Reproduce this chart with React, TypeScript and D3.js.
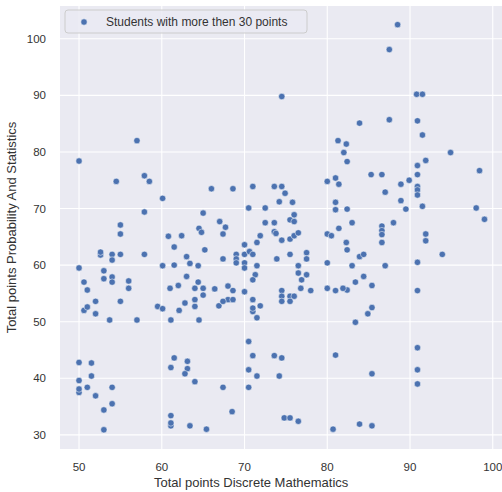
import * as d3 from 'd3';

// Total points Discrete Mathematics (x) / Probability And Statistics (y)
const mathPoints = [
  57.0, 50.0, 74.5, 81.3, 82.3, 82.0, 88.5, 87.5, 90.8, 91.5, 83.9, 87.5, 90.9, 91.5, 94.9, 91.9,
  82.4, 90.9, 98.4, 85.3, 86.6, 89.9, 88.9, 90.9, 90.9, 90.9, 90.9, 87.0, 88.9, 89.5, 91.5, 82.4,
  98.0, 99.0, 83.0, 88.0, 86.6, 86.6, 86.6, 86.6, 91.9, 91.9, 82.3, 82.4, 93.9, 83.9, 84.4, 90.9,
  83.0, 87.0, 84.4, 83.4, 82.4, 85.4, 90.9, 85.4, 84.9, 83.4, 90.9, 85.4, 90.9, 90.9, 83.9, 85.4,
  66.9, 71.9, 71.0, 71.0, 71.5, 64.5, 70.5, 71.0, 73.6, 74.5, 81.0, 70.5, 71.5, 74.2, 67.4, 70.5,
  68.5, 74.8, 75.5, 76.5, 65.4, 80.7, 50.6, 51.0, 52.0, 53.7, 57.0, 59.5, 60.1, 61.1, 62.1, 64.0,
  50.0, 51.5, 51.5, 50.0, 50.0, 50.0, 51.0, 52.0, 54.0, 54.0, 53.0, 53.0, 61.1, 61.5, 63.1, 63.1,
  62.8, 64.0, 61.1, 61.1, 61.1, 63.4, 54.5, 57.9, 58.5, 60.1, 57.9, 65.0, 55.0, 55.0, 64.5, 64.8,
  60.8, 62.4, 61.5, 65.2, 52.6, 52.6, 54.0, 54.0, 55.0, 57.9, 63.0, 63.4, 64.4, 60.1, 61.5, 50.0,
  53.0, 63.0, 50.6, 53.0, 54.0, 54.0, 56.0, 56.0, 51.0, 61.0, 62.0, 64.0, 64.4, 65.0, 65.0, 52.0,
  55.0, 62.8, 64.0, 66.0, 68.6, 71.0, 73.6, 74.5, 74.9, 74.2, 75.8, 80.0, 81.0, 81.4, 81.0, 81.0,
  70.5, 72.5, 76.0, 75.5, 76.0, 67.0, 67.7, 67.4, 72.5, 73.6, 73.6, 73.8, 71.9, 71.5, 74.5, 75.5,
  76.0, 76.5, 80.0, 80.5, 81.4, 70.0, 70.0, 69.0, 69.0, 69.0, 70.0, 70.0, 70.6, 71.0, 71.5, 67.4,
  73.9, 75.5, 77.5, 77.5, 76.5, 76.5, 77.5, 76.9, 76.8, 78.0, 80.0, 80.0, 81.0, 81.9, 71.3, 71.0,
  66.4, 68.0, 68.6, 70.0, 68.0, 68.6, 67.4, 71.0, 74.5, 74.5, 74.5, 75.5, 76.0, 75.5,
];

const probPoints = [
  82.0, 78.4, 89.8, 82.0, 81.4, 79.9, 102.5, 98.1, 90.2, 90.2, 85.1, 85.7, 85.5, 83.0, 79.9, 78.5,
  78.3, 77.6, 76.7, 76.0, 76.0, 75.0, 74.3, 76.0, 73.9, 73.3, 72.4, 72.9, 71.4, 69.9, 70.4, 69.9,
  70.1, 68.1, 67.5, 67.5, 66.9, 66.1, 65.4, 64.0, 65.5, 64.3, 64.0, 62.7, 61.9, 61.5, 61.9, 60.5,
  59.9, 59.9, 58.0, 57.0, 55.6, 56.4, 55.5, 52.5, 51.4, 49.9, 45.4, 40.8, 41.5, 39.0, 31.9, 31.6,
  52.8, 52.8, 51.8, 52.4, 50.7, 50.3, 46.5, 44.0, 44.0, 43.6, 44.1, 41.5, 40.4, 40.4, 38.4, 38.4,
  34.1, 33.0, 33.0, 32.4, 31.0, 31.0, 52.0, 52.6, 51.4, 50.3, 50.3, 52.7, 52.3, 50.3, 52.0, 52.7,
  42.8, 42.7, 40.4, 39.6, 37.5, 38.1, 38.4, 36.9, 38.4, 35.5, 34.4, 30.9, 41.9, 43.6, 43.0, 41.7,
  40.8, 39.4, 33.4, 31.6, 32.1, 31.6, 74.8, 75.8, 74.8, 71.8, 69.4, 69.2, 67.1, 65.5, 66.5, 65.8,
  65.1, 65.2, 63.2, 62.7, 61.8, 62.3, 61.9, 60.9, 61.9, 61.9, 61.5, 60.3, 59.9, 59.9, 60.0, 59.5,
  59.0, 58.0, 57.0, 57.6, 57.9, 57.0, 57.2, 55.9, 55.6, 55.9, 56.4, 55.9, 57.0, 55.9, 54.7, 53.6,
  53.6, 53.3, 53.9, 73.5, 73.5, 73.9, 73.9, 73.9, 72.7, 71.2, 71.1, 74.8, 75.4, 74.3, 71.1, 69.8,
  70.1, 70.1, 68.9, 68.0, 67.7, 67.7, 66.7, 65.5, 67.5, 67.5, 65.9, 65.6, 65.2, 64.0, 64.4, 64.6,
  65.2, 65.7, 65.5, 65.2, 66.5, 63.6, 61.9, 61.9, 61.1, 60.4, 60.4, 59.5, 62.4, 61.9, 59.9, 61.1,
  61.1, 61.9, 62.2, 61.1, 59.9, 58.6, 58.3, 57.4, 55.9, 55.5, 60.4, 55.9, 55.5, 55.9, 58.3, 57.4,
  55.8, 56.3, 55.5, 55.3, 53.9, 53.9, 53.6, 53.9, 55.5, 54.5, 53.6, 54.5, 54.5, 53.6,
];

const xTicks = [50, 60, 70, 80, 90, 100];
const yTicks = [30, 40, 50, 60, 70, 80, 90, 100];
const legendLabel = 'Students with more then 30 points';

export default function App() {
  const width = 502;
  const height = 492;
  const margin = { top: 6, right: -4, bottom: 43, left: 60 };

  const x = d3
    .scaleLinear()
    .domain([47.7, 101.6])
    .range([margin.left, width - margin.right]);
  const y = d3
    .scaleLinear()
    .domain([27.5, 105.8])
    .range([height - margin.bottom, margin.top]);

  const points = mathPoints.map((m, i) => ({ m, p: probPoints[i] }));
  const font = '"Liberation Sans", Arial, sans-serif';
  const textColor = '#333';
  const plotW = width - margin.right - margin.left;
  const plotH = height - margin.bottom - margin.top;

  return (
    <svg
      width={width}
      height={height}
      style={{ position: 'absolute', left: 0, top: 0, background: '#fff' }}
      fontFamily={font}
    >
      <rect x={margin.left} y={margin.top} width={plotW} height={plotH} fill="#eaeaf2" />
      {/* grid */}
      {xTicks.map((t) => (
        <line key={'gx' + t} x1={x(t)} x2={x(t)} y1={margin.top} y2={height - margin.bottom} stroke="#fff" strokeWidth={1.1} />
      ))}
      {yTicks.map((t) => (
        <line key={'gy' + t} x1={margin.left} x2={width} y1={y(t)} y2={y(t)} stroke="#fff" strokeWidth={1.1} />
      ))}
      {/* points */}
      {points.map((d, i) => (
        <circle key={i} cx={x(d.m)} cy={y(d.p)} r={3.2} fill="#4c72b0" stroke="#fff" strokeWidth={0.5} />
      ))}
      {/* tick labels */}
      {xTicks.map((t) => (
        <text key={'tx' + t} x={x(t)} y={470.5} textAnchor="middle" fontSize={11.5} fill={textColor}>
          {t}
        </text>
      ))}
      {yTicks.map((t) => (
        <text key={'ty' + t} x={46} y={y(t)} dy="0.35em" textAnchor="end" fontSize={11.5} fill={textColor}>
          {t}
        </text>
      ))}
      <text x={x(70.8)} y={487} textAnchor="middle" fontSize={13} fill={textColor}>
        Total points Discrete Mathematics
      </text>
      <text
        transform={`translate(16,${margin.top + plotH / 2}) rotate(-90)`}
        textAnchor="middle"
        fontSize={13}
        fill={textColor}
      >
        Total points Probability And Statistics
      </text>
      {/* legend */}
      <g transform="translate(65,10)">
        <rect width={242} height={23} rx={3} fill="#eaeaf2" fillOpacity={0.8} stroke="#cccccc" strokeWidth={1} />
        <circle cx={19} cy={12} r={3.2} fill="#4c72b0" stroke="#fff" strokeWidth={0.5} />
        <text x={41} y={16.3} fontSize={12} fill={textColor}>
          {legendLabel}
        </text>
      </g>
    </svg>
  );
}
